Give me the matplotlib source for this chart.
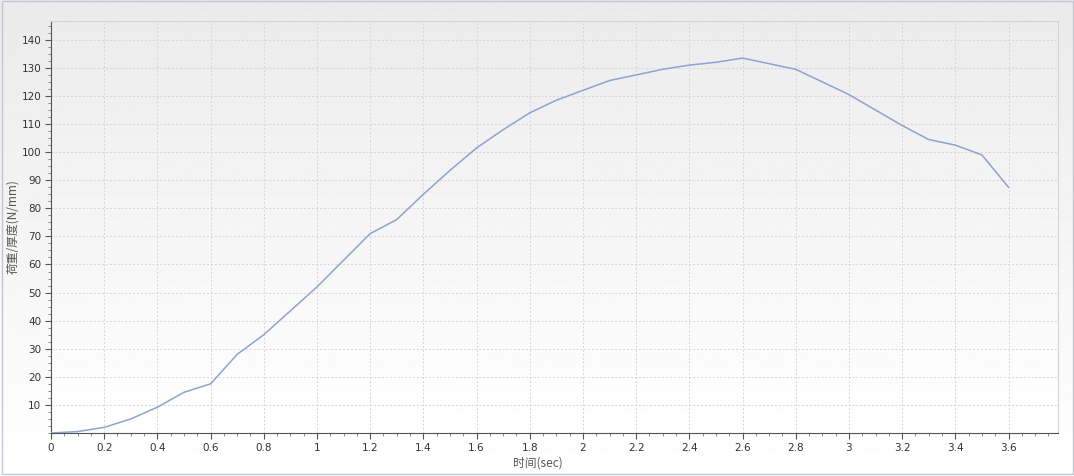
"""Recreate the load/thickness vs. time curve."""

import matplotlib.pyplot as plt
import numpy as np
from matplotlib.patches import Rectangle
from matplotlib.ticker import MultipleLocator

TIME_SEC = [0.0, 0.1, 0.2, 0.3, 0.4, 0.5, 0.6, 0.7, 0.8, 0.9, 1.0, 1.1, 1.2,
            1.3, 1.4, 1.5, 1.6, 1.7, 1.8, 1.9, 2.0, 2.1, 2.2, 2.3, 2.4, 2.5,
            2.6, 2.7, 2.8, 2.9, 3.0, 3.1, 3.2, 3.3, 3.4, 3.5, 3.6]
LOAD_PER_THICKNESS = [0.0, 0.5, 2.0, 5.0, 9.2, 14.5, 17.5, 28.0, 35.0, 43.5,
                      52.0, 61.5, 71.0, 76.0, 85.0, 93.5, 101.5, 108.0, 114.0,
                      118.5, 122.0, 125.5, 127.5, 129.5, 131.0, 132.0, 133.5,
                      131.5, 129.5, 125.0, 120.5, 115.0, 109.5, 104.5, 102.5,
                      99.0, 87.5]
X_TICK_LABELS = ["0", "0.2", "0.4", "0.6", "0.8", "1", "1.2", "1.4", "1.6",
                 "1.8", "2", "2.2", "2.4", "2.6", "2.8", "3", "3.2", "3.4",
                 "3.6"]

plt.rcParams["font.family"] = ["DejaVu Sans", "Noto Sans CJK SC"]

fig = plt.figure(figsize=(10.74, 4.76), dpi=100)

# figure-wide soft gradient background
bg = fig.add_axes([0, 0, 1, 1], zorder=-10)
grad = np.linspace(0.92, 1.0, 256).reshape(-1, 1)
bg.imshow(grad, aspect="auto", cmap="gray", vmin=0, vmax=1,
          extent=[0, 1, 0, 1], origin="upper")
bg.set_axis_off()
bg.add_patch(Rectangle((0.002, 0.004), 0.997, 0.994, transform=bg.transAxes,
                       fill=False, edgecolor="#c4c7d2", linewidth=1.0))

ax = fig.add_axes([51 / 1074, 43 / 476, (1058 - 51) / 1074, (455 - 43) / 476])
ax.patch.set_alpha(0)
ax.imshow(np.linspace(0.925, 1.0, 256).reshape(-1, 1), aspect="auto",
          cmap="gray", vmin=0, vmax=1, extent=[0, 3.786, 0, 146.7],
          origin="upper", zorder=0)

ax.plot(TIME_SEC, LOAD_PER_THICKNESS, color="#8ea3cf", linewidth=1.1, zorder=3)

ax.set_xlim(0, 3.786)
ax.set_ylim(0, 146.7)
ax.xaxis.set_minor_locator(MultipleLocator(0.05))
ax.yaxis.set_minor_locator(MultipleLocator(2.5))
ax.set_xticks(np.arange(0, 3.61, 0.2))
ax.set_xticklabels(X_TICK_LABELS)
ax.set_yticks(np.arange(10, 141, 10))

ax.grid(True, which="major", color="#d6d6d6", linestyle=(0, (2, 2)),
        linewidth=0.7, zorder=1)
ax.tick_params(which="major", direction="out", length=4, color="#555555",
               labelsize=7.5, labelcolor="#333333", pad=3)
ax.tick_params(which="minor", direction="out", length=2, color="#777777")

for side in ("top", "right"):
    ax.spines[side].set_color("#d4d4d4")
for side in ("left", "bottom"):
    ax.spines[side].set_color("#555555")

ax.set_xlabel("时间(sec)", fontsize=8.5, color="#555555",
              family=["Noto Sans CJK SC", "DejaVu Sans"])
ax.xaxis.set_label_coords((538 - 51) / 1007, -24 / 412)
ax.set_ylabel("荷重/厚度(N/mm)", fontsize=8.5, color="#555555",
              family=["Noto Sans CJK SC", "DejaVu Sans"])
ax.yaxis.set_label_coords((19 - 51) / 1007, 0.5)

fig.savefig("out.png", dpi=100)
plt.close(fig)
